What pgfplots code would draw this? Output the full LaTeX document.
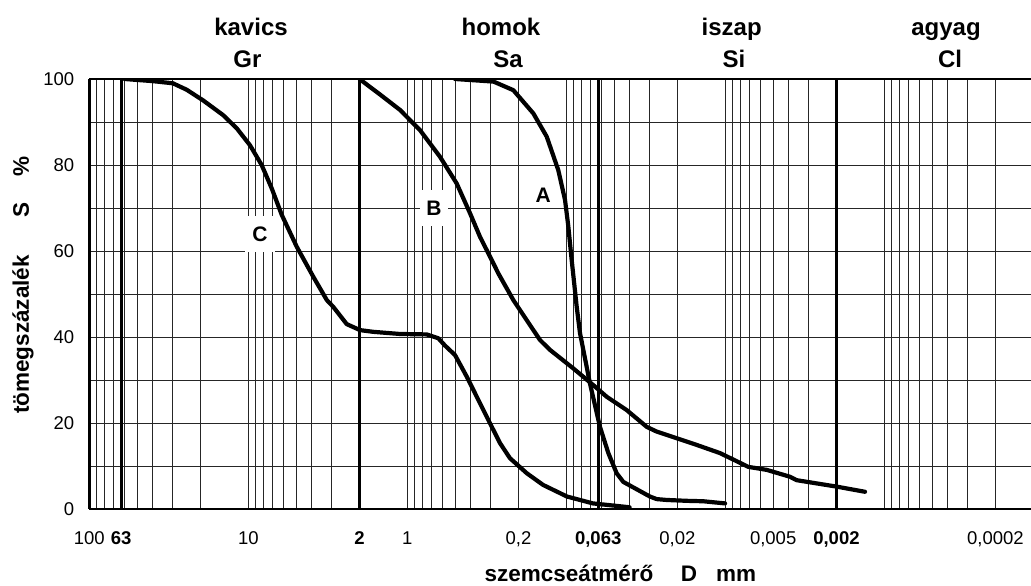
\documentclass[border=0pt]{standalone}
\usepackage{pgfplots}
\pgfplotsset{compat=1.18}
\usepackage{fontspec}
\setmainfont{Liberation Sans}
\begin{document}
\begin{tikzpicture}
\begin{axis}[
  scale only axis, width=941.7pt, height=430pt,
  xmode=log, x dir=reverse,
  xmin=1.195e-4, xmax=100, ymin=0, ymax=100,
  enlargelimits=false,
  axis x line=box, axis y line=left,
  axis line style={line width=2.5pt, -},
  major tick length=0pt, minor tick length=0pt,
  xtick={100,63,10,2,1,0.2,0.063,0.02,0.005,0.002,0.0002},
  xticklabels={100,\textbf{63},10,\textbf{2},1,{0,2},\textbf{0,063},{0,02},{0,005\hspace{14pt}},\textbf{0,002},{0,0002\hspace{18pt}}},
  minor xtick={100,90,80,70,60,50,40,30,20,10,9,8,7,6,5,4,3,2,1,0.9,0.8,0.7,0.6,0.5,0.4,0.3,0.2,0.1,0.09,0.08,0.07,0.06,0.05,0.04,0.03,0.02,0.01,0.009,0.008,0.007,0.006,0.005,0.004,0.003,0.002,0.001,0.0009,0.0008,0.0007,0.0006,0.0005,0.0004,0.0003,0.0002},
  ytick={0,10,...,100},
  yticklabels={0,,20,,40,,60,,80,,100},
  xmajorgrids=false, xminorgrids=true, ymajorgrids=true,
  major grid style={black!85, line width=0.9pt},
  minor grid style={black!85, line width=0.9pt},
  extra x ticks={63,2,0.063,0.002},
  extra x tick labels={},
  extra x tick style={xmajorgrids=true, major grid style={black, line width=2.6pt}},
  xticklabel style={font=\fontsize{18.5}{22}\selectfont, anchor=base, yshift=-36pt},
  yticklabel style={font=\fontsize{18.5}{22}\selectfont, anchor=east, xshift=-11.5pt},
]
% Curve A
\addplot[black, line width=4.2pt, line join=round, line cap=round] coordinates {
(0.501,100) (0.287,99.4) (0.2154,97.4) (0.1612,92) (0.1328,86.6) (0.1123,78.8)
(0.1019,71.9) (0.0971,65.7) (0.0925,57.9) (0.086,47) (0.082,40.9) (0.071,29.2)
(0.0614,19.1) (0.0544,13) (0.0482,8.3) (0.0438,6.3) (0.0298,2.9) (0.027,2.3)
(0.02336,2.1) (0.01749,1.9) (0.01375,1.8) (0.01004,1.3)
};
% Curve B
\addplot[black, line width=4.2pt, line join=round, line cap=round] coordinates {
(2,100) (1.485,96.4) (1.111,92.8) (0.832,88.1) (0.6226,81.9) (0.489,75.7)
(0.4034,68.8) (0.349,63.3) (0.2945,57.9) (0.2677,54.8) (0.2154,48.6)
(0.1464,39.3) (0.1266,37) (0.0904,32.7) (0.0676,28.8) (0.0557,26.1)
(0.0417,23) (0.0312,19.1) (0.027,18) (0.01513,14.9) (0.0108,13)
(0.00717,9.8) (0.00549,9.1) (0.00392,7.5) (0.00356,6.7) (0.00199,5.2) (0.001322,4)
};
% Curve C
\addplot[black, line width=4.2pt, line join=round, line cap=round] coordinates {
(60,100) (39.8,99.5) (29.8,99) (24.4,97.5) (19.2,95) (14.4,91.6) (11.8,88.5)
(9.76,84.6) (8.24,80) (7.13,74.6) (6.16,68.4) (4.96,61) (3.9,54) (3.21,48.6)
(2.92,47) (2.405,43) (1.984,41.6) (1.636,41.2) (1.111,40.7) (0.755,40.6)
(0.638,39.7) (0.579,38) (0.501,35.8) (0.423,30.8) (0.317,21.5) (0.261,15.3)
(0.226,11.8) (0.177,8.3) (0.14,5.6) (0.099,2.9) (0.068,1.3) (0.04,0.4)
};
\end{axis}
% zone titles
\begin{scope}[every node/.style={font=\fontsize{24}{28}\selectfont\bfseries, anchor=base, inner sep=0pt}]
\node at (161.7pt,473pt) {kavics};
\node at (158.2pt,441pt) {Gr};
\node at (411.7pt,473pt) {homok};
\node at (418.7pt,441pt) {Sa};
\node at (642.4pt,473pt) {iszap};
\node at (644.7pt,441pt) {Si};
\node at (856.7pt,473pt) {agyag};
\node at (860.7pt,441pt) {Cl};
\end{scope}
% curve labels
\node[font=\fontsize{21}{24}\selectfont\bfseries, fill=white, minimum width=30pt, minimum height=36pt, inner sep=0pt] at (170.7pt,275pt) {C};
\node[font=\fontsize{21}{24}\selectfont\bfseries, fill=white, minimum width=28pt, minimum height=36pt, inner sep=0pt] at (344.7pt,301pt) {B};
\node[font=\fontsize{21}{24}\selectfont\bfseries, inner sep=1pt] at (454pt,314pt) {A};
% axis titles
\begin{scope}[every node/.style={font=\fontsize{22.5}{26}\selectfont\bfseries, anchor=base, inner sep=0pt}]
\node at (479.7pt,-73pt) {szemcseátmérő};
\node at (599.7pt,-73pt) {D};
\node at (646.7pt,-73pt) {mm};
\node[rotate=90] at (-60.3pt,174.5pt) {tömegszázalék};
\node[rotate=90] at (-60.3pt,298.5pt) {S};
\node[rotate=90] at (-60.3pt,342.5pt) {\%};
\end{scope}
\pgfresetboundingbox
\useasboundingbox (-89.3pt,-77pt) rectangle (941.7pt,509pt);
\end{tikzpicture}
\end{document}
